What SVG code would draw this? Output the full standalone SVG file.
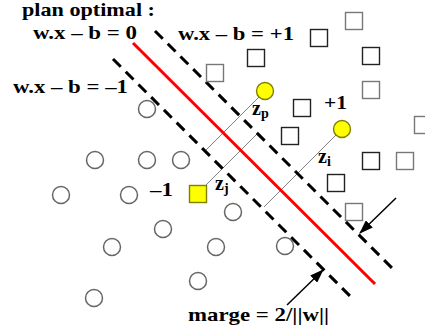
<svg xmlns="http://www.w3.org/2000/svg" width="425" height="334" viewBox="0 0 425 334">
<defs>
<style>
.t{font-family:'Liberation Serif','Times New Roman',serif;font-weight:bold;fill:#000}
.lbl{font-size:19px}
.z{font-size:20px}
.sub{font-size:14px}
.c{fill:#fff;stroke:#666;stroke-width:1.5}
.s{fill:#fff;stroke:#222;stroke-width:1.4}
.sg{fill:#fff;stroke:#777;stroke-width:1.4}
.y{fill:#ffff00;stroke:#7f7f00;stroke-width:1.4}
.dash{stroke:#000;stroke-width:3;stroke-dasharray:11 7;fill:none}
.proj{stroke:#808080;stroke-width:1;fill:none}
.arr{stroke:#000;stroke-width:1.5;fill:none}
</style>
<marker id="ah" markerUnits="userSpaceOnUse" markerWidth="14" markerHeight="10" refX="13" refY="5" orient="auto">
<path d="M0,0 L14,5 L0,10 z" fill="#000"/>
</marker>
</defs>
<rect width="425" height="334" fill="#fff"/>

<g id="connectors">
<line class="proj" x1="265" y1="91" x2="206" y2="150"/>
<line class="proj" x1="206" y1="185" x2="258" y2="133"/>
<line class="proj" x1="342" y1="129" x2="264" y2="207"/>
<line id="hyperplane" x1="133" y1="43" x2="375" y2="284" stroke="#ff0000" stroke-width="3"/>
<line id="margin-plus" class="dash" x1="155" y1="31" x2="392" y2="268"/>
<line id="margin-minus" class="dash" x1="113" y1="59" x2="350" y2="296"/>
<line class="arr" x1="396" y1="198" x2="360" y2="233" marker-end="url(#ah)"/>
<line class="arr" x1="287" y1="305" x2="323" y2="270" marker-end="url(#ah)"/>
</g>

<g id="circles">
<circle class="c" cx="147" cy="109" r="8.5"/>
<circle class="c" cx="95" cy="160" r="8.5"/>
<circle class="c" cx="147" cy="160" r="8.5"/>
<circle class="c" cx="181" cy="160" r="8.5"/>
<circle class="c" cx="61" cy="195" r="8.5"/>
<circle class="c" cx="129" cy="195" r="8.5"/>
<circle class="c" cx="163" cy="229" r="8.5"/>
<circle class="c" cx="112" cy="247" r="8.5"/>
<circle class="c" cx="233" cy="212" r="8.5"/>
<circle class="c" cx="216" cy="247" r="8.5"/>
<circle class="c" cx="285" cy="246" r="8.5"/>
<circle class="c" cx="198" cy="281" r="8.5"/>
<circle class="c" cx="94" cy="298" r="8.5"/>
</g>

<g id="squares">
<rect class="sg" x="345.5" y="12.5" width="17" height="17"/>
<rect class="s" x="310.5" y="29.5" width="17" height="17"/>
<rect class="s" x="247.5" y="49.5" width="17" height="17"/>
<rect class="sg" x="206.5" y="64.5" width="17" height="17"/>
<rect class="s" x="362.5" y="47.5" width="17" height="17"/>
<rect class="sg" x="362.5" y="81.5" width="17" height="17"/>
<rect class="s" x="293.5" y="99.5" width="17" height="17"/>
<rect class="s" x="281.5" y="127.5" width="17" height="17"/>
<rect class="sg" x="414.5" y="116.5" width="17" height="17"/>
<rect class="s" x="362.5" y="152.5" width="17" height="17"/>
<rect class="sg" x="396.5" y="152.5" width="17" height="17"/>
<rect class="s" x="327.5" y="174.5" width="17" height="17"/>
<rect class="sg" x="345.5" y="203.5" width="17" height="17"/>
</g>

<g id="zp"><circle class="y" cx="265" cy="91" r="8.5"/><text class="t z" x="252" y="115">z<tspan class="sub" dy="3">p</tspan></text></g>
<g id="zi"><circle class="y" cx="342" cy="129" r="8.5"/><text class="t z" x="318" y="163">z<tspan class="sub" dy="3">i</tspan></text></g>
<g id="zj"><rect class="y" x="189.5" y="185.5" width="17" height="17"/><text class="t z" x="215" y="190">z<tspan class="sub" dy="3">j</tspan></text></g>

<g id="labels">
<text class="t lbl" x="22" y="16" textLength="133" lengthAdjust="spacingAndGlyphs">plan optimal :</text>
<text class="t lbl" x="33" y="39" textLength="104" lengthAdjust="spacingAndGlyphs">w.x – b = 0</text>
<text class="t lbl" x="178" y="40" textLength="116" lengthAdjust="spacingAndGlyphs">w.x – b = +1</text>
<text class="t lbl" x="13" y="93" textLength="115" lengthAdjust="spacingAndGlyphs">w.x – b = –1</text>
<text class="t lbl" x="324" y="109" textLength="23" lengthAdjust="spacingAndGlyphs">+1</text>
<text class="t lbl" x="150" y="196" textLength="23" lengthAdjust="spacingAndGlyphs">–1</text>
<text class="t lbl" x="188" y="321" textLength="141" lengthAdjust="spacingAndGlyphs">marge = 2/||w||</text>
</g>
</svg>
